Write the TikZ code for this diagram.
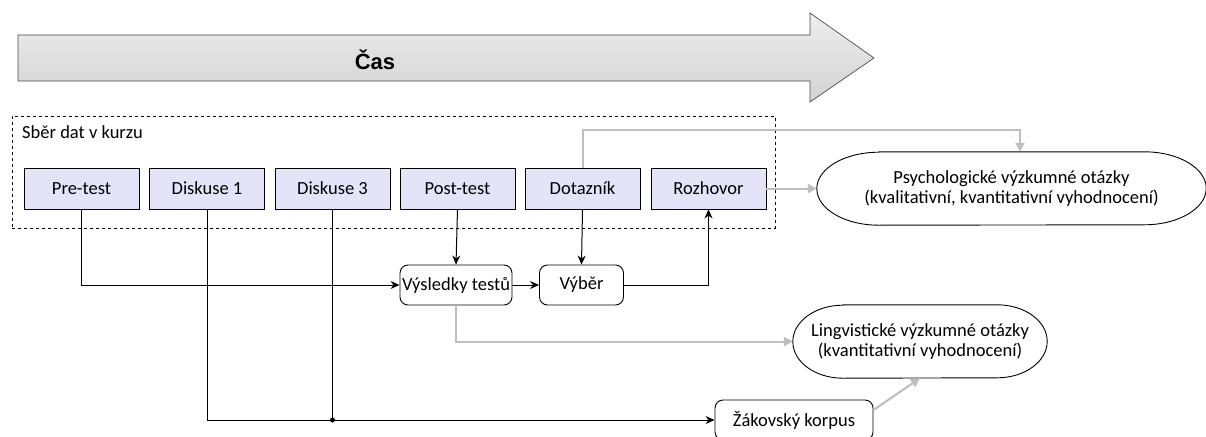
\documentclass[tikz,border=0pt]{standalone}
\usepackage{fontspec}
\setmainfont{Carlito}
\newfontfamily\arialbold{Liberation Sans}[BoldFont={* Bold}]
\usetikzlibrary{arrows.meta}
\definecolor{boxfill}{HTML}{E4E4F8}
\definecolor{flowgray}{HTML}{BEBEBE}
\tikzset{
  x=1pt, y=-1pt,
  every node/.style={font=\fontsize{18.5}{20}\selectfont, inner sep=0pt},
  stagebox/.style={draw, fill=boxfill, minimum width=115pt, minimum height=41pt, line width=0.9pt},
  resultbox/.style={draw, rounded corners=8pt, minimum height=40pt, line width=0.9pt, fill=white},
  goal/.style={rectangle, align=center, minimum height=73pt},
  goalline/.style={draw, line width=0.9pt, fill=white},
  flow/.style={line width=1pt, -{Stealth[length=9pt,width=8pt]}},
  grayflow/.style={draw=flowgray, line width=2pt, -{Triangle[length=9pt,width=9pt]}, flowgray},
}
% outline with elliptical ends around a goal node: #1 node name, #2 end radius
\newcommand\goaloutline[2]{%
  \path[goalline] ([xshift=#2]#1.north west) -- ([xshift=-#2]#1.north east)
    arc[start angle=90, end angle=-90, x radius=#2, y radius=36.5pt]
    -- ([xshift=#2]#1.south west)
    arc[start angle=270, end angle=90, x radius=#2, y radius=36.5pt] -- cycle;}
\begin{document}
\begin{tikzpicture}
\useasboundingbox[fill=white] (0,0) rectangle (1206,436);

% time arrow
\shade[top color=gray!14, bottom color=gray!35, draw=gray!60!black, line width=0.7pt]
  (18,35) -- (810,35) -- (810,13) -- (874,58) -- (810,102) -- (810,81) -- (18,81) -- cycle;
\node[font=\arialbold\bfseries\fontsize{22}{24}\selectfont] (cas) at (375,60) {Čas};

% data collection frame
\node[draw, dashed, line width=0.9pt, minimum width=763pt, minimum height=112pt] (frame) at (393.5,172) {};
\node[anchor=west] (frametitle) at (22,132) {Sběr dat v kurzu};

% collection stages
\node[stagebox] (pre)  at (81.5,188.5)  {Pre-test};
\node[stagebox] (d1)   at (207,188.5)   {Diskuse 1};
\node[stagebox] (d3)   at (332.5,188.5) {Diskuse 3};
\node[stagebox] (post) at (457.5,188.5) {Post-test};
\node[stagebox] (dot)  at (582.5,188.5) {Dotazník};
\node[stagebox] (roz)  at (708.5,188.5) {Rozhovor};

% intermediate results
\node[resultbox, minimum width=112pt] (vys) at (456,285) {Výsledky testů};
\node[resultbox, minimum width=84pt]  (vyb) at (581.5,285) {Výběr};
\node[resultbox, minimum width=158pt] (kor) at (794,420) {Žákovský korpus};

% research questions
\node[goal, minimum width=389pt] (psy) at (1011.5,188.5) {};
\goaloutline{psy}{62pt}
\node[align=center] (psytext) at (psy.center)
  {Psychologické výzkumné otázky\\(kvalitativní, kvantitativní vyhodnocení)};
\node[goal, minimum width=254pt] (lin) at (920,341.5) {};
\goaloutline{lin}{50pt}
\node[align=center] (lintext) at (lin.center)
  {Lingvistické výzkumné otázky\\(kvantitativní vyhodnocení)};

% black flows
\draw[flow] (pre.south) |- (vys.west);
\draw[flow] (d1.south) |- (kor.west);
\coordinate (junc) at (d3.south |- kor.west);
\draw[line width=1pt] (d3.south) -- (junc);
\fill (junc) circle (2.5pt);
\draw[flow] (post.south) -- (vys.north);
\draw[flow] (dot.south) -- (vyb.north);
\draw[flow] (vys.east) -- (vyb.west);
\draw[flow] (vyb.east) -| (roz.south);

% gray flows
\coordinate (dotup) at (582.5,130);
\coordinate (psytop) at (1020,130);
\draw[grayflow] (dot.north) -- (dotup) -- (psytop) -- (psytop |- psy.north);
\draw[grayflow] (roz.east) -- (psy.west);
\draw[grayflow] (vys.south) |- (lin.west);
\draw[grayflow] (kor.east |- 0,410) -- (lin.south);
\end{tikzpicture}
\end{document}
